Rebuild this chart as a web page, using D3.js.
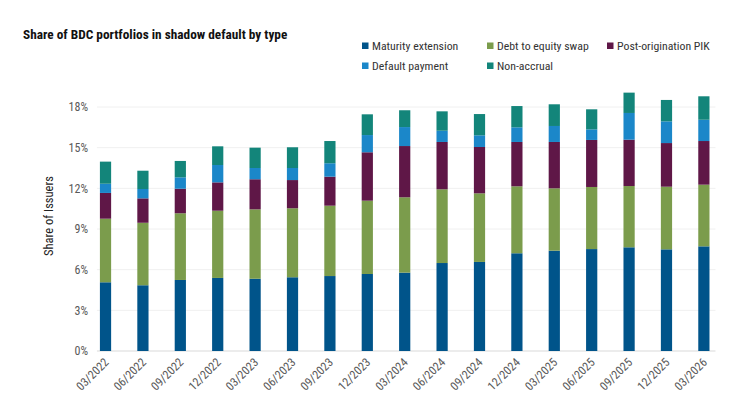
<!DOCTYPE html>
<html><head><meta charset="utf-8">
<script src="https://cdn.jsdelivr.net/npm/d3@7"></script>
<style>
body{margin:0;background:#fff;}
text{font-family:"Roboto Condensed","Liberation Sans Narrow","DejaVu Sans Condensed",Roboto,sans-serif;}
</style></head>
<body><svg id="c" width="743" height="418"></svg>
<script>
const categories = ["03/2022","06/2022","09/2022","12/2022","03/2023","06/2023","09/2023","12/2023","03/2024","06/2024","09/2024","12/2024","03/2025","06/2025","09/2025","12/2025","03/2026"];
const seriesNames = ["Maturity extension","Debt to equity swap","Post-origination PIK","Default payment","Non-accrual"];
const maturityExtension = [5.07,4.85,5.24,5.39,5.33,5.44,5.53,5.68,5.78,6.49,6.57,7.21,7.40,7.52,7.65,7.50,7.72];
const debtToEquity      = [4.69,4.61,4.92,4.96,5.12,5.09,5.19,5.41,5.56,5.44,5.06,4.94,4.60,4.58,4.52,4.62,4.55];
const postOriginationPIK= [1.90,1.80,1.81,2.09,2.22,2.08,2.14,3.57,3.78,3.49,3.42,3.27,3.42,3.47,3.42,3.22,3.22];
const defaultPayment    = [0.68,0.69,0.84,1.28,0.83,0.89,0.99,1.27,1.40,0.83,0.86,1.08,1.18,0.78,1.97,1.60,1.57];
const nonAccrual        = [1.63,1.35,1.21,1.38,1.50,1.53,1.64,1.53,1.24,1.43,1.57,1.57,1.60,1.48,1.50,1.58,1.73];
const yTicks = [0,3,6,9,12,15,18];
const colors = ["#00548a","#7b9c4c","#5f1747","#1b87c9","#13857a"];

const seriesValues = [maturityExtension,debtToEquity,postOriginationPIK,defaultPayment,nonAccrual];
const keys = seriesNames;
const table = categories.map((c,i)=>{const o={cat:c}; keys.forEach((k,j)=>o[k]=seriesValues[j][i]); return o;});
const stacked = d3.stack().keys(keys)(table);

const svg = d3.select("#c");
const x = d3.scaleBand().domain(categories).range([90,719.4]).paddingInner(0.7).paddingOuter(0.265);
const y = d3.scaleLinear().domain([0,18]).range([351,107]);

const gx0 = x(categories[0]) - 3, gx1 = x(categories[categories.length-1]) + x.bandwidth() + 6;

// gridlines
svg.append("g").selectAll("line").data(yTicks).join("line")
  .attr("x1",gx0).attr("x2",gx1).attr("y1",d=>y(d)).attr("y2",d=>y(d))
  .attr("stroke",d=>d===0?"#d9d9d9":"#f0f0f0").attr("stroke-width",1);

// y axis labels
const yAxis = d3.axisLeft(y).tickValues(yTicks).tickFormat(d=>d+"%").tickSize(0).tickPadding(0);
const ya = svg.append("g").attr("transform","translate(88,0)").call(yAxis);
ya.select(".domain").remove();
ya.selectAll("text").attr("fill","#595959").style("font-size","12px").style("font-family",null);

// bars
svg.append("g").selectAll("g").data(stacked).join("g").attr("fill",(d,i)=>colors[i])
  .selectAll("rect").data(d=>d).join("rect")
  .attr("x",d=>x(d.data.cat)).attr("width",x.bandwidth())
  .attr("y",d=>y(d[1])).attr("height",d=>y(d[0])-y(d[1]));

// x axis labels
const xAxis = d3.axisBottom(x).tickSize(0).tickPadding(0);
const xa = svg.append("g").attr("transform","translate(0,351)").call(xAxis);
xa.select(".domain").remove();
xa.selectAll("text").attr("fill","#595959").style("font-size","12px").style("font-family",null)
  .attr("text-anchor","end").attr("dy",null).attr("y",0)
  .attr("transform","translate(4,12) rotate(-45)");

// y title
svg.append("text").attr("transform","translate(53,216) rotate(-90)").attr("text-anchor","middle")
  .attr("fill","#222").style("font-size","12.5px").text("Share of Issuers");

// title
svg.append("text").attr("x",23).attr("y",39).attr("fill","#111").style("font-size","13.3px").style("font-weight","bold")
  .text("Share of BDC portfolios in shadow default by type");

// legend
const legPos = [[362,46],[487,46],[607,46],[362,66],[487,66]];
const lg = svg.append("g").selectAll("g").data(seriesNames).join("g")
  .attr("transform",(d,i)=>`translate(${legPos[i][0]},${legPos[i][1]})`);
lg.append("rect").attr("x",0).attr("y",-3.5).attr("width",6.5).attr("height",6.5).attr("fill",(d,i)=>colors[i]);
lg.append("text").attr("x",10).attr("y",0).attr("dy","0.35em").attr("fill","#333").style("font-size","11.8px").text(d=>d);
</script></body></html>
